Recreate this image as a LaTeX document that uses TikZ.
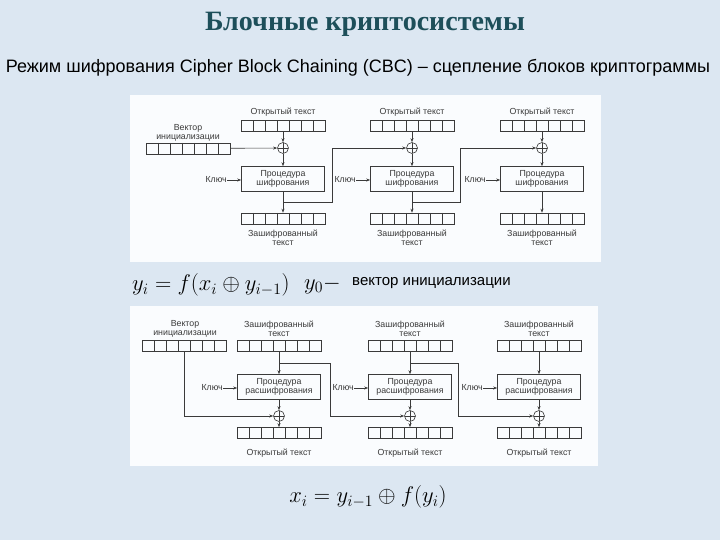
\RequirePackage{fix-cm}
\documentclass[tikz,border=0pt]{standalone}
\usepackage{fontspec}
\setmainfont{Liberation Serif}
\setsansfont{Liberation Sans}
\usetikzlibrary{arrows.meta}
\definecolor{bgblue}{HTML}{DCE7F2}
\definecolor{panel}{HTML}{FAFCFE}
\definecolor{titlec}{HTML}{1D4F5A}
\definecolor{ln}{HTML}{3A3A3A}
\begin{document}
\begin{tikzpicture}[x=1pt,y=-1pt,
  every node/.style={inner sep=0pt},
  lbl/.style={font=\sffamily\fontsize{8.8}{9}\selectfont, text=ln, align=center},
  reg/.style={draw=ln, line width=0.6pt, minimum width=84pt, minimum height=11pt,
    path picture={\foreach \k in {1,...,6}{\draw[ln, line width=0.5pt]
      ([xshift=\k*12pt]path picture bounding box.north west) --
      ([xshift=\k*12pt]path picture bounding box.south west);}}},
  proc/.style={draw=ln, line width=0.6pt, minimum width=83pt, minimum height=25pt,
    font=\sffamily\fontsize{8.8}{9}\selectfont, text=ln, align=center},
  xor/.style={draw=ln, line width=0.6pt, circle, minimum size=11pt,
    path picture={\draw[ln, line width=0.5pt]
      (path picture bounding box.north) -- (path picture bounding box.south)
      (path picture bounding box.west) -- (path picture bounding box.east);}},
  ar/.style={draw=ln, line width=0.6pt, -{Stealth[length=4pt,width=3pt]}},
  fm/.style={font=\fontsize{22.6}{24}\selectfont}
]
\fill[bgblue] (0,0) rectangle (720,540);
\useasboundingbox (0,0) rectangle (720,540);

% titles
\node[font=\bfseries\fontsize{28}{30}\selectfont, text=titlec] (title) at (365,24) {Блочные криптосистемы};
\node[font=\sffamily\fontsize{18}{20}\selectfont, text=black] (sub) at (358,68) {Режим шифрования Cipher Block Chaining (CBC) – сцепление блоков криптограммы};

% panels
\fill[panel] (130,95) rectangle (601,262);
\fill[panel] (130,306) rectangle (598,466);

% ===== top diagram =====
\node[lbl] (ivlab) at (188,133) {Вектор\\инициализации};
\node[reg] (iv) at (188,148.5) {};
\foreach \i/\cx in {1/283,2/412,3/542}{
  \node[lbl] (ptl\i) at (\cx,112) {Открытый текст};
  \node[reg] (pt\i) at (\cx,126) {};
  \node[xor] (x\i) at (\cx,148) {};
  \node[proc] (enc\i) at (\cx,179) {Процедура\\шифрования};
  \node[lbl, anchor=east] (k\i) at (\cx-56,180) {Ключ};
  \node[reg] (ct\i) at (\cx,218.5) {};
  \node[lbl] (ctl\i) at (\cx,237.5) {Зашифрованный\\текст};
  \coordinate (b\i) at (\cx,202);
  \draw[ar] (pt\i) -- (x\i);
  \draw[ar] (x\i) -- (enc\i);
  \draw[ar] (enc\i) -- (ct\i);
  \draw[ar] (k\i.east) -- (k\i.east -| enc\i.west);
}
\draw[ar] (iv) -- (x1);
\coordinate (f1) at (332,202);
\coordinate (f2) at (460,202);
\draw[ar] (b1) -- (f1) -- (f1 |- x2) -- (x2);
\draw[ar] (b2) -- (f2) -- (f2 |- x3) -- (x3);

% formula 1
\node[anchor=west, fm] (fa) at (132,285) {$y_i = f\bigl(x_i \oplus y_{i-1}\bigr)$};
\node[anchor=west, fm] (fb) at (304,285) {$y_0 -$};
\node[anchor=west, font=\sffamily\fontsize{15}{16}\selectfont] (fc) at (352,283) {вектор инициализации};

% ===== bottom diagram =====
\node[lbl] (divlab) at (185,329) {Вектор\\инициализации};
\node[reg] (div) at (184,346) {};
\foreach \i/\cx in {1/279,2/410,3/539}{
  \node[lbl] (dctl\i) at (\cx,329) {Зашифрованный\\текст};
  \node[reg] (dct\i) at (\cx,346) {};
  \node[proc] (dec\i) at (\cx,387) {Процедура\\расшифрования};
  \node[lbl, anchor=east] (dk\i) at (\cx-56,388) {Ключ};
  \node[xor] (dx\i) at (\cx,416) {};
  \node[reg] (dpt\i) at (\cx,433) {};
  \node[lbl] (dptl\i) at (\cx,453) {Открытый текст};
  \coordinate (db\i) at (\cx,363);
  \draw[ar] (dct\i) -- (dec\i);
  \draw[ar] (dec\i) -- (dx\i);
  \draw[ar] (dx\i) -- (dpt\i);
  \draw[ar] (dk\i.east) -- (dk\i.east -| dec\i.west);
}
\draw[ar] (div) -- (div |- dx1) -- (dx1);
\coordinate (g1) at (330,363);
\coordinate (g2) at (458,363);
\draw[ar] (db1) -- (g1) -- (g1 |- dx2) -- (dx2);
\draw[ar] (db2) -- (g2) -- (g2 |- dx3) -- (dx3);

% formula 2
\node[fm] (fd) at (368,497) {$x_i = y_{i-1} \oplus f\bigl(y_i\bigr)$};
\end{tikzpicture}
\end{document}
